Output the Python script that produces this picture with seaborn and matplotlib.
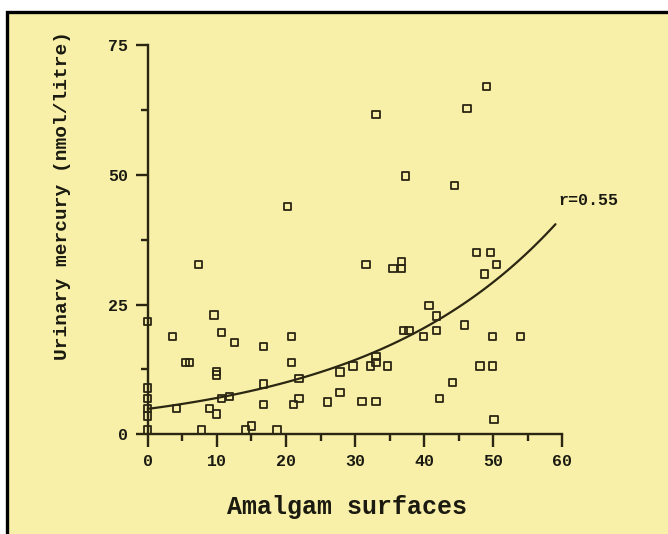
import numpy as np
import pandas as pd
import seaborn as sns
import matplotlib.pyplot as plt
from matplotlib.patches import Rectangle
from matplotlib.ticker import MultipleLocator

# amalgam surfaces vs urinary mercury
amalgam = [0, 0, 0, 0, 0, 0, 3.6, 4.2, 5.5, 6.0, 7.3, 7.8, 9.6, 8.9, 9.9, 9.9,
           9.9, 10.7, 10.7, 11.8, 12.5, 14.1, 15.0, 16.7, 16.7, 16.7, 18.7,
           20.2, 20.8, 20.8, 21.1, 21.9, 21.9, 26.0, 27.8, 27.8, 29.7, 31.0,
           31.6, 32.2, 33.0, 33.0, 33.0, 33.0, 34.7, 35.5, 36.7, 36.7, 37.3,
           37.0, 37.8, 39.9, 40.7, 41.8, 41.8, 42.2, 44.1, 44.4, 45.8, 46.2,
           47.6, 48.1, 48.7, 49.0, 49.6, 49.9, 49.9, 50.1, 50.5, 53.9]
mercury = [21.7, 8.9, 6.9, 5.0, 3.5, 0.8, 18.8, 5.0, 13.8, 13.8, 32.8, 0.8,
           23.0, 5.0, 11.4, 12.1, 3.9, 19.6, 6.9, 7.3, 17.7, 0.8, 1.6, 16.9,
           9.7, 5.8, 0.8, 43.9, 18.8, 13.9, 5.8, 6.9, 10.8, 6.2, 8.1, 12.0,
           13.2, 6.3, 32.8, 13.2, 61.7, 13.8, 15.0, 6.3, 13.2, 32.0, 32.0,
           33.3, 49.8, 20.0, 20.0, 18.8, 24.8, 22.8, 20.0, 6.9, 10.0, 48.0,
           21.1, 62.8, 35.1, 13.2, 30.9, 67.1, 35.1, 18.8, 13.2, 2.8, 32.8,
           18.8]

# exponential fit drawn on the chart: y = fit_a * exp(fit_b * x)
fit_a = 4.9
fit_b = 0.0358
fit_x = np.linspace(0, 59, 120)
r_label = "r=0.55"

df = pd.DataFrame({"amalgam": amalgam, "mercury": mercury})
fit = pd.DataFrame({"amalgam": fit_x, "mercury": fit_a * np.exp(fit_b * fit_x)})

sns.set_theme(style="ticks")
plt.rcParams["font.family"] = ["Liberation Mono", "DejaVu Sans Mono"]
plt.rcParams["font.weight"] = "bold"

panel = "#F8EFA8"
ink = "#2A2612"

fig = plt.figure(figsize=(6.68, 5.34), dpi=100, facecolor="white")
fig.patches.append(Rectangle((7 / 668, -0.05), 1.2, (534 - 12) / 534 + 0.05,
                             transform=fig.transFigure, facecolor=panel,
                             edgecolor="black", linewidth=2.4, zorder=-10))

ax = fig.add_axes([147.8 / 668, (534 - 434.3) / 534, 414.6 / 668, 389 / 534])
ax.set_facecolor("none")

sns.scatterplot(data=df, x="amalgam", y="mercury", ax=ax, marker="s", s=28,
                facecolor="none", edgecolor=ink, linewidth=1.3, clip_on=False,
                zorder=3)
sns.lineplot(data=fit, x="amalgam", y="mercury", ax=ax, color=ink, lw=1.6,
             clip_on=False)

ax.set_xlim(0, 60)
ax.set_ylim(0, 75)
ax.xaxis.set_major_locator(MultipleLocator(10))
ax.xaxis.set_minor_locator(MultipleLocator(5))
ax.yaxis.set_major_locator(MultipleLocator(25))
ax.yaxis.set_minor_locator(MultipleLocator(12.5))

sns.despine(ax=ax)
for side in ["left", "bottom"]:
    ax.spines[side].set_color(ink)
    ax.spines[side].set_linewidth(1.7)
ax.tick_params(which="major", length=9, width=1.7, color=ink, labelsize=12,
               labelcolor="#1a1a10", pad=5)
ax.tick_params(which="minor", length=5, width=1.7, color=ink)
for lbl in ax.get_xticklabels() + ax.get_yticklabels():
    lbl.set_fontweight("bold")

ax.set_xlabel("")
ax.set_ylabel("")
fig.text(347 / 668, (534 - 507) / 534, "Amalgam surfaces", ha="center",
         va="center", fontsize=18, fontweight="bold", color="#1a1a10")
fig.text(63 / 668, (534 - 195) / 534, "Urinary mercury (nmol/litre)",
         ha="center", va="center", rotation=90, fontsize=14,
         fontweight="bold", color="#1a1a10")
ax.text(59.4, 45.0, r_label, ha="left", va="center", fontsize=12,
        fontweight="bold", color="#1a1a10", clip_on=False)

fig.savefig("out.png", dpi=100, facecolor="white")
